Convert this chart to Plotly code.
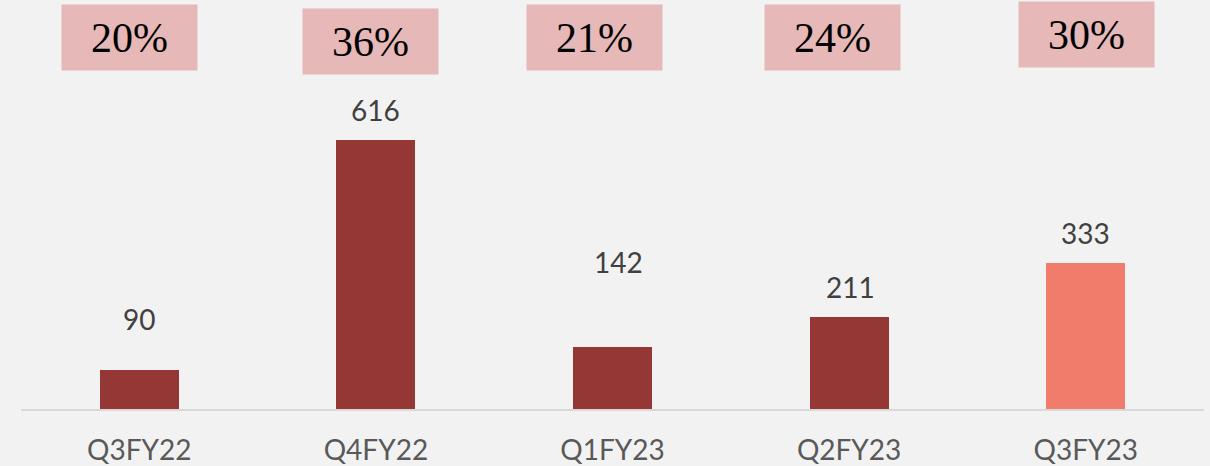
import plotly.graph_objects as go

categories = ["Q3FY22", "Q4FY22", "Q1FY23", "Q2FY23", "Q3FY23"]
values = [90, 616, 142, 211, 333]
percent_labels = ["20%", "36%", "21%", "24%", "30%"]

# styling / layout constants
bar_colors = ["#953735", "#953735", "#953735", "#953735", "#F17C6B"]
box_xshift = [-10, -5, -18, -17, 1]
box_ypx = [37.5, 41.5, 37.5, 37.5, 34.5]   # box centre, px from top
val_yshift = [51, 30, 85, 30, 30]
val_xshift = [0, 0, 6, 1, 0]

W, H = 1210, 466
mt, mb, ml, mr = 0, 57, 21, 6
plot_h = H - mt - mb

fig = go.Figure()
fig.add_trace(go.Bar(
    x=list(range(len(categories))), y=values,
    marker=dict(color=bar_colors, line=dict(width=0)),
    width=0.334, hoverinfo="skip",
))

annotations = []
for i, v in enumerate(values):
    annotations.append(dict(
        x=i, y=v, xref="x", yref="y", text=str(v), showarrow=False,
        xanchor="center", yanchor="middle", yshift=val_yshift[i], xshift=val_xshift[i],
        font=dict(family="Lato", size=28, color="#404040"),
    ))
for i, p in enumerate(percent_labels):
    annotations.append(dict(
        x=i, y=1 - box_ypx[i] / plot_h, xref="x", yref="paper", text=p, showarrow=False,
        xanchor="center", yanchor="middle", xshift=box_xshift[i],
        width=135, height=65, borderpad=0, bgcolor="#E6B8B7",
        font=dict(family="Liberation Serif", size=42, color="#000000"),
    ))

fig.update_layout(
    width=W, height=H,
    margin=dict(t=mt, b=mb, l=ml, r=mr, pad=0),
    paper_bgcolor="#F2F2F2", plot_bgcolor="#F2F2F2",
    showlegend=False,
    bargap=0,
    annotations=annotations,
    xaxis=dict(
        range=[-0.5, len(categories) - 0.5],
        tickmode="array", tickvals=list(range(len(categories))), ticktext=categories,
        showline=True, linecolor="#D9D9D9", linewidth=2,
        showgrid=False, zeroline=False, ticks="",
        tickfont=dict(family="Lato", size=28, color="#595959"),
        ticklabelstandoff=15,
        fixedrange=True,
    ),
    yaxis=dict(
        range=[0, 936], visible=False, showgrid=False, zeroline=False, fixedrange=True,
    ),
)

fig.write_html(
    "out.html",
    config={"displayModeBar": False},
    post_script="document.body.style.margin='0';document.body.style.background='#F2F2F2';",
)
